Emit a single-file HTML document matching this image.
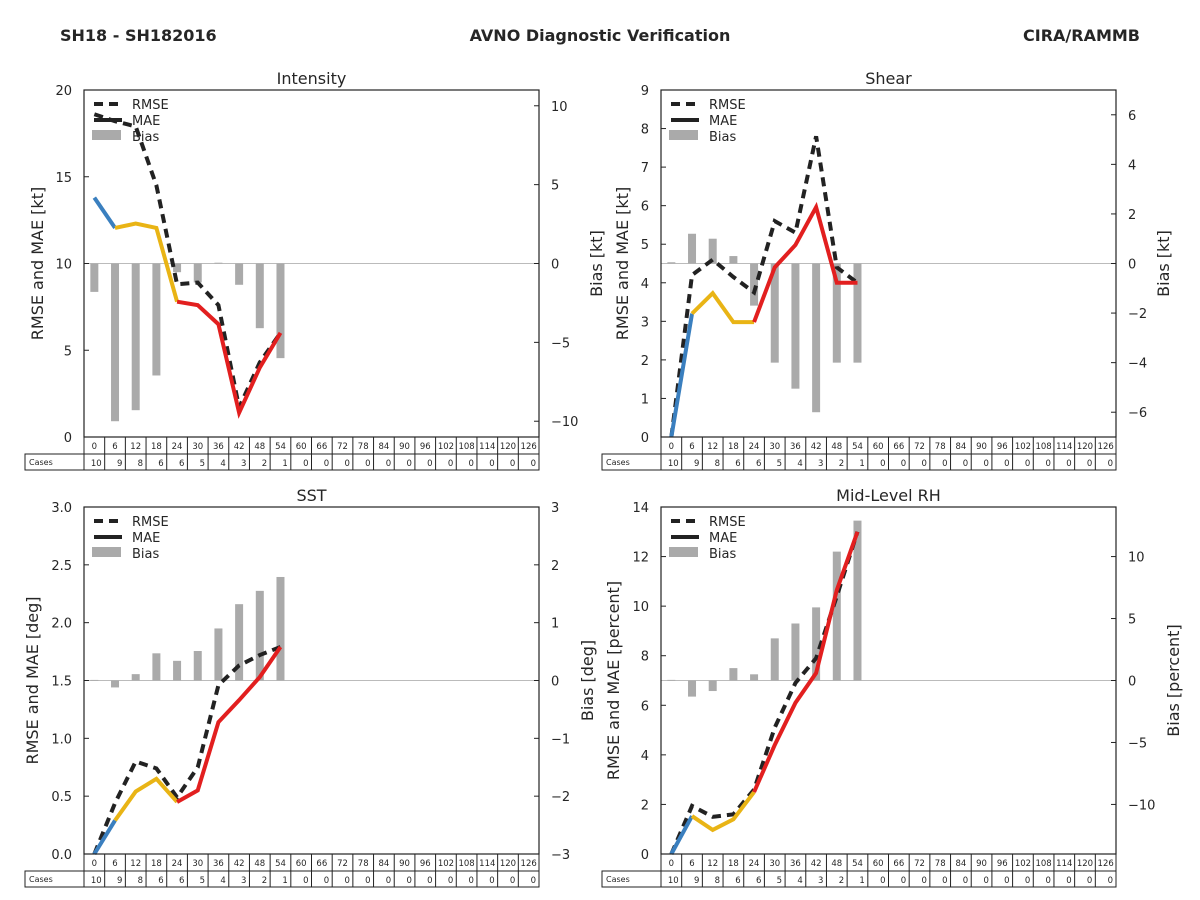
<!DOCTYPE html>
<html><head><meta charset="utf-8"><style>
html,body{margin:0;padding:0;background:#fff;}
svg{display:block;font-family:"DejaVu Sans","Liberation Sans",sans-serif;}
</style></head><body>
<svg id="fig" width="1200" height="900" viewBox="0 0 1200 900" xmlns="http://www.w3.org/2000/svg">
<rect width="1200" height="900" fill="#fff"/>
<text x="60" y="41" font-size="16" font-weight="bold" fill="#262626">SH18 - SH182016</text>
<text x="600" y="41" font-size="16" font-weight="bold" fill="#262626" text-anchor="middle">AVNO Diagnostic Verification</text>
<text x="1140" y="41" font-size="16" font-weight="bold" fill="#262626" text-anchor="end">CIRA/RAMMB</text>
</svg>
<script>
const hours = [0,6,12,18,24,30,36,42,48,54];
const allHours = [0,6,12,18,24,30,36,42,48,54,60,66,72,78,84,90,96,102,108,114,120,126];
const cases = [10,9,8,6,6,5,4,3,2,1,0,0,0,0,0,0,0,0,0,0,0,0];
const titles = ["Intensity","Shear","SST","Mid-Level RH"];
const leftLabels = ["RMSE and MAE [kt]","RMSE and MAE [kt]","RMSE and MAE [deg]","RMSE and MAE [percent]"];
const rightLabels = ["Bias [kt]","Bias [kt]","Bias [deg]","Bias [percent]"];
const maeIntensity = [13.8,12.05,12.3,12.05,7.8,7.6,6.5,1.4,4.0,6.0];
const rmseIntensity = [18.6,18.2,17.9,14.5,8.8,8.9,7.6,1.7,4.3,6.0];
const biasIntensity = [-1.8,-10.0,-9.3,-7.1,-0.55,-1.2,0.05,-1.35,-4.1,-6.0];
const maeShear = [0,3.2,3.73,2.98,2.98,4.4,4.98,5.96,4.0,4.0];
const rmseShear = [0,4.2,4.6,4.15,3.75,5.6,5.3,7.8,4.4,4.0];
const biasShear = [0.05,1.2,1.0,0.3,-1.7,-4.0,-5.05,-6.0,-4.0,-4.0];
const maeSST = [0,0.29,0.54,0.65,0.45,0.55,1.14,1.33,1.53,1.79];
const rmseSST = [0,0.44,0.8,0.74,0.49,0.75,1.46,1.63,1.72,1.79];
const biasSST = [0.01,-0.12,0.11,0.47,0.34,0.51,0.9,1.32,1.55,1.79];
const maeRH = [0,1.53,0.97,1.4,2.5,4.4,6.1,7.3,10.65,13.0];
const rmseRH = [0,1.94,1.5,1.6,2.6,5.1,6.9,7.9,10.4,13.0];
const biasRH = [0.05,-1.3,-0.85,1.0,0.5,3.4,4.6,5.9,10.4,12.9];
const leftTicks = [[0,5,10,15,20],[0,1,2,3,4,5,6,7,8,9],[0,0.5,1,1.5,2,2.5,3],[0,2,4,6,8,10,12,14]];
const leftTickText = [["0","5","10","15","20"],["0","1","2","3","4","5","6","7","8","9"],["0.0","0.5","1.0","1.5","2.0","2.5","3.0"],["0","2","4","6","8","10","12","14"]];
const rightTicks = [[-10,-5,0,5,10],[-6,-4,-2,0,2,4,6],[-3,-2,-1,0,1,2,3],[-10,-5,0,5,10]];
const leftMax = [20,9,3,14];
const rightMax = [11,7,3,14];

const maeAll=[maeIntensity,maeShear,maeSST,maeRH];
const rmseAll=[rmseIntensity,rmseShear,rmseSST,rmseRH];
const biasAll=[biasIntensity,biasShear,biasSST,biasRH];
const boxes=[{L:84,R:539,T:90,B:437},{L:661,R:1116,T:90,B:437},{L:84,R:539,T:507,B:854},{L:661,R:1116,T:507,B:854}];
const leftTitleOff=[47,39,52,48];
const rightTitleOff=[57,47,48,57];
const NS="http://www.w3.org/2000/svg";
const fig=document.getElementById('fig');
function mk(tag,attrs,parent,text){const e=document.createElementNS(NS,tag);for(const k in attrs)e.setAttribute(k,attrs[k]);if(text!==undefined)e.textContent=text;parent.appendChild(e);return e;}
const fmt=v=>v<0?"\u2212"+Math.abs(v):String(v);
const TC='#262626';

boxes.forEach((b,p)=>{
  const g=mk('g',{},fig);
  
  
  const W=b.R-b.L,H=b.B-b.T;
  const x=h=>b.L+(h+3)/132*W;
  const yl=v=>b.B-v/leftMax[p]*H;
  const yr=v=>b.T+(rightMax[p]-v)/(2*rightMax[p])*H;
  const cw=W/22;
  const t=mk('text',{x:(b.L+b.R)/2,y:b.T-6,'font-size':16,'text-anchor':'middle',fill:TC},g,titles[p]);
  
  
  const z=mk('line',{x1:b.L,x2:b.R,y1:yr(0),y2:yr(0),stroke:'#bbb','stroke-width':1},g);
  
  
  biasAll[p].forEach((v,i)=>{
    const y0=yr(0),y1=yr(v);
    const r=mk('rect',{x:x(hours[i])-4,y:Math.min(y0,y1),width:8,height:Math.max(Math.abs(y1-y0),0.8),fill:'#aaaaaa'},g);
    
    
  });
  const rp=rmseAll[p].map((v,i)=>x(hours[i])+','+yl(v)).join(' ');
  const rl=mk('polyline',{points:rp,fill:'none',stroke:'#222','stroke-width':4,'stroke-dasharray':'9,6'},g);
  
  
  const m=maeAll[p];
  const segs=[[0,1,'#3a7fbf'],[1,4,'#e9b415'],[4,m.length-1,'#e21f1f']];
  segs.forEach(s=>{
    const pts=[];for(let i=s[0];i<=s[1];i++)pts.push(x(hours[i])+','+yl(m[i]));
    const ml=mk('polyline',{points:pts.join(' '),fill:'none',stroke:s[2],'stroke-width':4,'stroke-linejoin':'miter'},g);
    
    
  });
  const fr=mk('rect',{x:b.L,y:b.T,width:W,height:H,fill:'none',stroke:'#222','stroke-width':1.2},g);
  
  
  leftTicks[p].forEach((v,i)=>{
    mk('line',{x1:b.L,x2:b.L+5,y1:yl(v),y2:yl(v),stroke:'#222'},g);
    const tl=mk('text',{x:b.L-12,y:yl(v)+5,'font-size':13,'text-anchor':'end',fill:TC},g,leftTickText[p][i]);
    
    
  });
  rightTicks[p].forEach(v=>{
    mk('line',{x1:b.R-5,x2:b.R,y1:yr(v),y2:yr(v),stroke:'#222'},g);
    const tr=mk('text',{x:b.R+12,y:yr(v)+5,'font-size':13,fill:TC},g,fmt(v));
    
    
  });
  const lx=b.L-leftTitleOff[p]+6;
  const la=mk('text',{x:lx,y:(b.T+b.B)/2,'font-size':16,'text-anchor':'middle',fill:TC,transform:`rotate(-90 ${lx} ${(b.T+b.B)/2})`},g,leftLabels[p]);
  
  
  const rx=b.R+rightTitleOff[p]+6;
  const ra=mk('text',{x:rx,y:(b.T+b.B)/2,'font-size':16,'text-anchor':'middle',fill:TC,transform:`rotate(-90 ${rx} ${(b.T+b.B)/2})`},g,rightLabels[p]);
  
  
  const lg=mk('g',{},g);
  
  
  const lx0=b.L+10,ly=b.T+14;
  mk('line',{x1:lx0,x2:lx0+28,y1:ly,y2:ly,stroke:'#222','stroke-width':4,'stroke-dasharray':'9,6'},lg);
  mk('text',{x:lx0+38,y:ly+5,'font-size':13,fill:TC},lg,'RMSE');
  mk('line',{x1:lx0,x2:lx0+28,y1:ly+16,y2:ly+16,stroke:'#222','stroke-width':4},lg);
  mk('text',{x:lx0+38,y:ly+21,'font-size':13,fill:TC},lg,'MAE');
  mk('rect',{x:lx0-2,y:ly+26,width:29,height:10,fill:'#aaaaaa'},lg);
  mk('text',{x:lx0+38,y:ly+37,'font-size':13,fill:TC},lg,'Bias');
  const tg=mk('g',{},g);
  
  
  const r1=b.B,r2=b.B+17,r3=b.B+33;
  mk('rect',{x:b.L,y:r1,width:W,height:17,fill:'none',stroke:'#222'},tg);
  mk('rect',{x:b.L-59,y:r2,width:W+59,height:16,fill:'none',stroke:'#222'},tg);
  mk('text',{x:b.L-55,y:r2+11,'font-size':8,fill:TC},tg,'Cases');
  allHours.forEach((h,i)=>{
    const cx=b.L+i*cw;
    mk('line',{x1:cx,x2:cx,y1:r1,y2:r3,stroke:'#222'},tg);
    mk('text',{x:cx+cw/2,y:r1+12,'font-size':8.5,'text-anchor':'middle',fill:TC},tg,String(h));
    mk('text',{x:cx+cw-3,y:r2+12,'font-size':8.5,'text-anchor':'end',fill:TC},tg,String(cases[i]));
  });
});
</script>
</body></html>
